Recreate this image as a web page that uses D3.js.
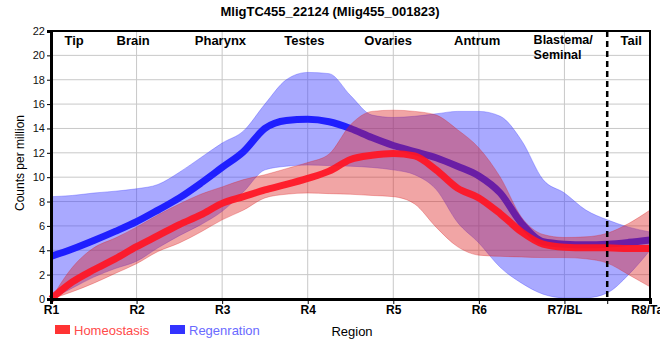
<!DOCTYPE html>
<html><head><meta charset="utf-8">
<script src="https://cdn.jsdelivr.net/npm/d3@7"></script>
<style>body{margin:0;background:#fff}svg{display:block;font-family:"Liberation Sans",Arial,sans-serif}</style>
</head><body><svg id="c" width="660" height="360"></svg>
<script>
// ---- data ----
const positions = [1,1.25,1.5,1.75,2,2.25,2.5,2.75,3,3.25,3.5,3.75,4,4.25,4.5,4.75,5,5.25,5.5,5.75,6,6.25,6.5,6.75,7,7.25,7.5,7.75,8];
const homeoMean  = [0,1.4,2.4,3.3,4.3,5.2,6.1,6.9,7.85,8.4,8.95,9.4,9.9,10.5,11.45,11.8,11.95,11.75,10.6,9.1,8.3,7.0,5.5,4.5,4.25,4.2,4.2,4.15,4.15];
const homeoUpper = [0,2.6,4.2,5.0,5.9,6.9,7.8,8.6,9.2,9.8,10.2,10.7,11.2,11.9,14.3,15.4,15.5,15.4,15.1,13.9,12.4,10.0,6.7,5.3,5.05,5.1,5.4,6.2,7.3];
const homeoLower = [0,0.6,1.3,2.1,2.9,3.9,4.6,5.5,6.5,7.3,8.3,8.6,8.7,8.65,8.6,8.5,8.4,7.8,5.9,4.3,3.6,3.5,3.45,3.4,3.4,3.3,2.95,2.0,1.0];
const regenMean  = [3.5,4.1,4.8,5.55,6.35,7.3,8.3,9.5,10.8,12.1,14.0,14.65,14.75,14.55,14.0,13.25,12.6,12.1,11.6,10.9,10.1,8.7,6.2,4.7,4.5,4.45,4.5,4.65,4.85];
const regenUpper = [8.4,8.5,8.7,8.85,9.05,9.4,10.4,11.6,12.8,13.8,16.0,18.0,18.6,18.5,16.7,15.1,14.9,15.0,15.2,15.4,15.4,15.0,13.0,9.8,8.7,7.3,6.5,5.9,5.5];
const regenLower = [0,0.9,1.8,2.5,3.1,4.2,5.2,6.1,7.2,8.8,10.6,10.9,11.0,10.95,10.9,10.8,10.6,10.2,9.0,6.3,4.6,2.6,1.3,0.4,0.1,0.1,0.5,2.0,4.0];
const xTickLabels = ["R1","R2","R3","R4","R5","R6","R7/BL","R8/Tail"];
const yTicks = [0,2,4,6,8,10,12,14,16,18,20,22];
const regionNames = ["Tip","Brain","Pharynx","Testes","Ovaries","Antrum","Blastema/|Seminal","Tail"];
const regionAnchors = [1.27,1.96,2.98,3.96,4.94,5.98,6.64,7.78];
const seriesNames = ["Homeostasis","Regenration"];
const dividerAt = 7.5;

// ---- layout ----
const svg = d3.select("#c");
const x = d3.scaleLinear().domain([1,8]).range([51,650]);
const y = d3.scaleLinear().domain([0,22]).range([299,31]);

// grid
svg.append("g").selectAll("line").data(yTicks.slice(1)).join("line")
  .attr("x1",51).attr("x2",650).attr("y1",d=>y(d)).attr("y2",d=>y(d))
  .attr("stroke","#c8c8c8").attr("stroke-width",1);
svg.append("g").selectAll("line").data(d3.range(2,9)).join("line")
  .attr("x1",d=>x(d)).attr("x2",d=>x(d)).attr("y1",31).attr("y2",299)
  .attr("stroke","#c8c8c8").attr("stroke-width",1);

const idx = d3.range(positions.length);
const area = (lo,hi)=>d3.area().x(i=>x(positions[i])).y0(i=>y(lo[i])).y1(i=>y(hi[i])).curve(d3.curveMonotoneX);
const line = (m)=>d3.line().x(i=>x(positions[i])).y(i=>y(m[i])).curve(d3.curveMonotoneX);

// regeneration band + line
svg.append("path").attr("d",area(regenLower,regenUpper)(idx))
  .attr("fill","rgba(64,64,255,0.45)").attr("stroke","rgba(64,64,255,0.35)").attr("stroke-width",1);
svg.append("path").attr("d",line(regenMean)(idx))
  .attr("fill","none").attr("stroke","#1f1fff").attr("stroke-width",7).attr("stroke-linecap","butt");
// homeostasis band + line
svg.append("path").attr("d",area(homeoLower,homeoUpper)(idx))
  .attr("fill","rgba(220,30,30,0.4)").attr("stroke","rgba(220,30,30,0.3)").attr("stroke-width",1);
svg.append("path").attr("d",line(homeoMean)(idx))
  .attr("fill","none").attr("stroke","rgba(255,20,35,0.93)").attr("stroke-width",7).attr("stroke-linecap","butt");

// divider
svg.append("line").attr("x1",x(dividerAt)).attr("x2",x(dividerAt)).attr("y1",31).attr("y2",299)
  .attr("stroke","#000").attr("stroke-width",2.5).attr("stroke-dasharray","6,4");

// frame
svg.append("line").attr("x1",51).attr("x2",651).attr("y1",31).attr("y2",31).attr("stroke","#000").attr("stroke-width",2);
svg.append("line").attr("x1",650).attr("x2",650).attr("y1",31).attr("y2",299).attr("stroke","#000").attr("stroke-width",2);

// axes
const yAxis = svg.append("g").attr("transform","translate(51,0)")
  .call(d3.axisLeft(y).tickValues(yTicks).tickSize(4).tickPadding(2));
yAxis.select(".domain").attr("stroke-width",3);
yAxis.selectAll("text").attr("font-size",11).attr("fill","#111").attr("font-family","Liberation Sans, Arial, sans-serif");
const xAxis = svg.append("g").attr("transform","translate(0,299)")
  .call(d3.axisBottom(x).tickValues([1,2,3,4,5,6,7,dividerAt,8]).tickSize(5).tickPadding(1)
    .tickFormat(d=> Number.isInteger(d) ? xTickLabels[d-1] : ""));
xAxis.select(".domain").attr("stroke-width",3);
xAxis.selectAll("text").attr("font-size",12).attr("font-weight","bold").attr("fill","#000").attr("font-family","Liberation Sans, Arial, sans-serif");

// region labels
regionNames.forEach((n,i)=>{
  const parts = n.split("|");
  parts.forEach((p,j)=>{
    svg.append("text").attr("font-size",parts.length>1?12.5:13).attr("font-weight","bold").attr("fill","#000")
      .attr("x",x(regionAnchors[i])).attr("y",parts.length>1?44+j*14.5:45)
      .attr("text-anchor",parts.length>1?"start":"middle").text(p);
  });
});

// title
svg.append("text").attr("x",330).attr("y",16).attr("text-anchor","middle")
  .attr("font-size",13).attr("font-weight","bold").text("MligTC455_22124 (Mlig455_001823)");
// y label
svg.append("text").attr("transform","translate(24,163) rotate(-90)").attr("text-anchor","middle")
  .attr("font-size",12).text("Counts per million");
// x label
svg.append("text").attr("x",352).attr("y",336).attr("text-anchor","middle").attr("font-size",13).text("Region");

// legend
const legColors = ["#ff3333","#3333ff"], legText=["#ff4a4a","#6a6aff"], legX=[55,170];
seriesNames.forEach((n,i)=>{
  svg.append("rect").attr("x",legX[i]).attr("y",325).attr("width",15).attr("height",9).attr("fill",legColors[i]);
  svg.append("text").attr("x",legX[i]+19).attr("y",335).attr("font-size",13).attr("fill",legText[i]).text(n);
});
</script></body></html>
